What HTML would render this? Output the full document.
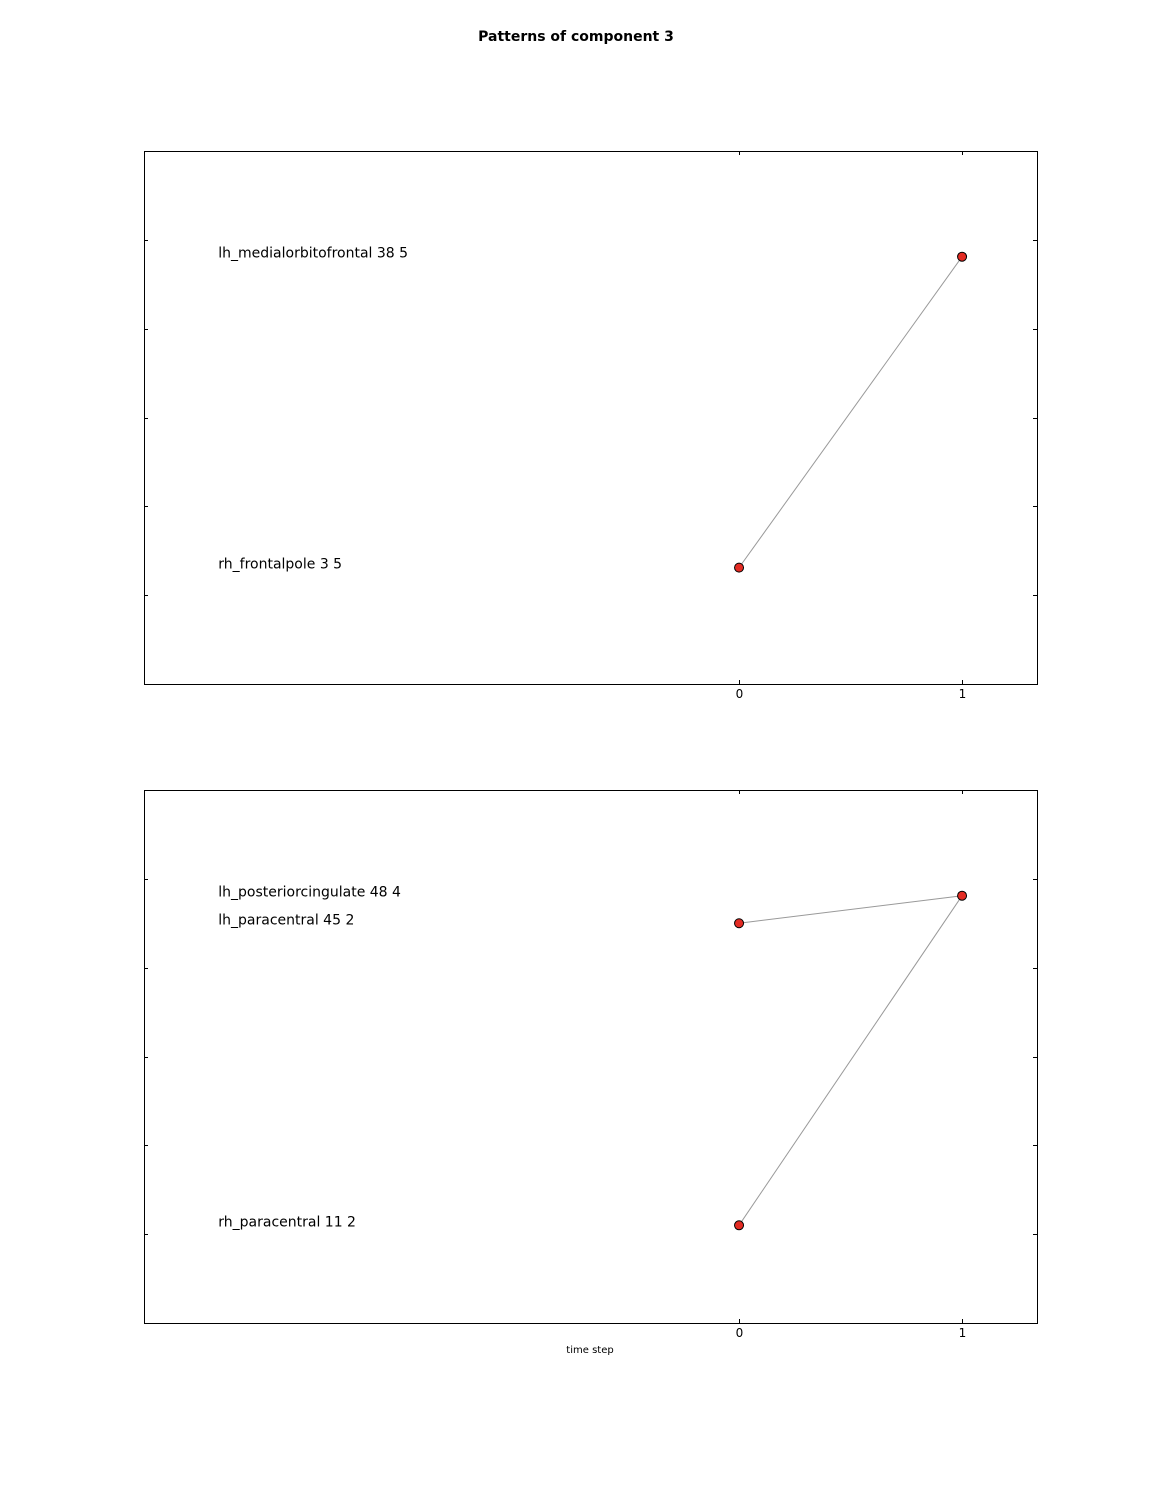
<!DOCTYPE html>
<html><head><meta charset="utf-8"><style>
body{margin:0;background:#fff;}
svg{display:block;font-family:"DejaVu Sans","Liberation Sans",sans-serif;}
</style></head><body>
<svg id="fig" width="1152" height="1512">
<text x="576" y="41" text-anchor="middle" font-size="14" font-weight="bold">Patterns of component 3</text>
</svg>
<script>
const xTicks=[0,1];
const yTicks=[1,2,3,4,5];
const p1Labels=["lh_medialorbitofrontal 38 5","rh_frontalpole 3 5"];
const p1LabelY=[4.81,1.31];
const p1Segments=[[0,1.31,1,4.81]];
const p1Points=[[0,1.31],[1,4.81]];
const p2Labels=["lh_posteriorcingulate 48 4","lh_paracentral 45 2","rh_paracentral 11 2"];
const p2LabelY=[4.81,4.5,1.1];
const p2Segments=[[0,4.5,1,4.81],[0,1.1,1,4.81]];
const p2Points=[[0,4.5],[1,4.81],[0,1.1]];
const xMin=-2.668,xMax=1.336,yMin=0,yMax=6,labelX=-2.335;
const NS="http://www.w3.org/2000/svg";
const svg=document.getElementById('fig');
function mk(tag,attrs,parent){const e=document.createElementNS(NS,tag);for(const k in attrs)e.setAttribute(k,attrs[k]);(parent||svg).appendChild(e);return e;}
function panel(top,labels,labelY,segs,pts,idx){
 const L=144,R=1037,T=top,B=top+533;
 const sx=v=>L+(v-xMin)/(xMax-xMin)*(R-L);
 const sy=v=>B-(v-yMin)/(yMax-yMin)*(B-T);
 const g=mk('g',{});
 
 
 const fr=mk('rect',{x:L+0.5,y:T+0.5,width:R-L,height:B-T,fill:'none',stroke:'#000','stroke-width':1},g);
 
 
 xTicks.forEach(t=>{const x=Math.round(sx(t))+0.5;
  mk('line',{x1:x,y1:B,x2:x,y2:B-4,stroke:'#000'},g);
  mk('line',{x1:x,y1:T,x2:x,y2:T+4,stroke:'#000'},g);
  const tx=mk('text',{x:x,y:B+14,'text-anchor':'middle','font-size':12},g);tx.textContent=t;
  
  
 });
 yTicks.forEach(t=>{const y=Math.round(sy(t))+0.5;
  mk('line',{x1:L,y1:y,x2:L+4,y2:y,stroke:'#000'},g);
  mk('line',{x1:R,y1:y,x2:R-4,y2:y,stroke:'#000'},g);
 });
 segs.forEach(s=>{const ln=mk('line',{x1:sx(s[0]),y1:sy(s[1]),x2:sx(s[2]),y2:sy(s[3]),stroke:'#999','stroke-width':1},g);
  
  });
 pts.forEach(p=>{const c=mk('circle',{cx:sx(p[0]),cy:sy(p[1]),r:4.5,fill:'#e32b23',stroke:'#000','stroke-width':1},g);
  
  });
 labels.forEach((s,i)=>{const t=mk('text',{x:sx(labelX),y:sy(labelY[i])+1,'font-size':14},g);t.textContent=s;
  
  });
}
panel(151,p1Labels,p1LabelY,p1Segments,p1Points,1);
panel(790,p2Labels,p2LabelY,p2Segments,p2Points,2);
const xl=mk('text',{x:590,y:1353,'text-anchor':'middle','font-size':10});
xl.textContent='time step';


</script>
</body></html>
